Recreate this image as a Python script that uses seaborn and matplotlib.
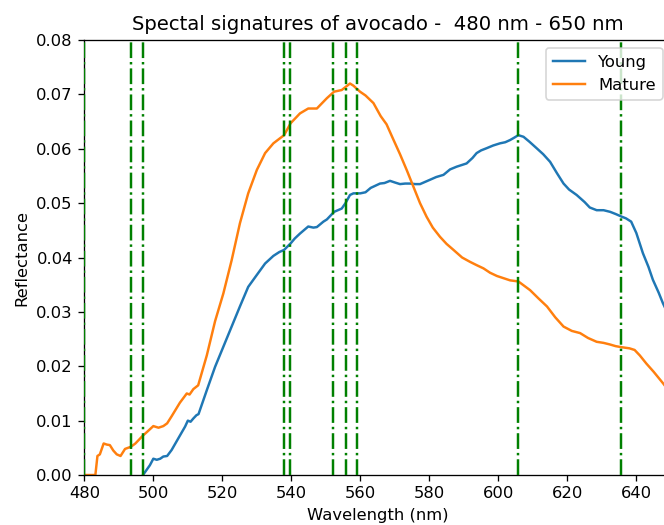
import matplotlib
matplotlib.use('Agg')
import matplotlib.pyplot as plt
import seaborn as sns

# ── Data ──────────────────────────────────────────────────────────────────────
wl_young = [497, 499, 500, 501, 502, 502.9, 504, 505.3, 507.2, 509.2, 510, 510.8,
            511.6, 512.5, 513.1, 515.5, 517.9, 520.3, 522.7, 525.1, 527.5, 530,
            532.4, 534.8, 536.5, 537.9, 539.8, 541, 542.5, 544.9, 546.4, 547.4,
            549.3, 550.3, 552.4, 554.6, 555.7, 557, 558, 560, 561.5, 563, 565.7,
            567, 568.6, 570, 571.5, 573, 574.4, 576, 577.3, 580.2, 582, 584.1,
            586, 587.9, 590.8, 592.5, 593.7, 595, 596.6, 598.5, 600.5, 602, 603.4,
            604.5, 605.8, 607.3, 609, 611.1, 613, 615, 617, 618.9, 620.5, 622.7,
            625, 626.5, 628.5, 630.5, 632.4, 634, 635.8, 637, 638.5, 640, 641.9,
            643.5, 644.8, 646.5, 647.7, 650]
refl_young = [0.0, 0.0018, 0.0030, 0.0028, 0.0030, 0.0034, 0.0035, 0.0046, 0.0067,
              0.0089, 0.0100, 0.0098, 0.0104, 0.0110, 0.0112, 0.0156, 0.0199, 0.0236,
              0.0273, 0.0310, 0.0346, 0.0368, 0.0389, 0.0403, 0.0410, 0.0414, 0.0426,
              0.0435, 0.0444, 0.0457, 0.0455, 0.0456, 0.0466, 0.0470, 0.0484, 0.0490,
              0.0500, 0.0515, 0.0518, 0.0518, 0.0520, 0.0528, 0.0536, 0.0537, 0.0541,
              0.0538, 0.0535, 0.0536, 0.0536, 0.0535, 0.0535, 0.0543, 0.0548, 0.0552,
              0.0562, 0.0567, 0.0573, 0.0583, 0.0592, 0.0597, 0.0601, 0.0606, 0.0610,
              0.0612, 0.0616, 0.0620, 0.0625, 0.0622, 0.0613, 0.0601, 0.0590, 0.0576,
              0.0555, 0.0536, 0.0525, 0.0515, 0.0502, 0.0492, 0.0487, 0.0487, 0.0484,
              0.0480, 0.0475, 0.0472, 0.0466, 0.0445, 0.0408, 0.0383, 0.0359, 0.0335,
              0.0316, 0.0285]

wl_mature = [480, 483.2, 483.8, 484.5, 485.6, 486.5, 487.4, 488.4, 489.4, 490.5,
             491.8, 493.5, 494.8, 496.9, 498.3, 500, 501.5, 502.9, 504, 505.3, 507.7,
             509.7, 510.5, 511.6, 513, 515.5, 517.9, 520.3, 522.7, 525.1, 527.5, 530,
             532.4, 534.8, 537.9, 539.8, 542.5, 544.9, 547.4, 550.3, 552.4, 554.6,
             557, 558, 559.9, 561.5, 563.8, 565.9, 567.6, 569.5, 571.5, 573.5, 575.4,
             577.3, 579.2, 581, 583.1, 585, 587, 589.5, 591.8, 593.7, 595.7, 597.6,
             599.6, 601.5, 603.4, 605.8, 607.5, 609.2, 611.6, 614.1, 616.5, 618.9,
             621.3, 623.7, 626, 628.5, 630.5, 632.4, 634, 635.8, 638, 639.5, 641,
             642.9, 645, 647.7, 650]
refl_mature = [0.0, 0.0, 0.0035, 0.0038, 0.0058, 0.0056, 0.0055, 0.0045, 0.0038,
               0.0035, 0.0048, 0.0052, 0.0058, 0.0072, 0.0080, 0.0090, 0.0087, 0.0090,
               0.0095, 0.0108, 0.0133, 0.0150, 0.0148, 0.0158, 0.0165, 0.0220, 0.0283,
               0.0334, 0.0395, 0.0463, 0.0518, 0.0561, 0.0592, 0.0610, 0.0625, 0.0647,
               0.0665, 0.0674, 0.0674, 0.0693, 0.0705, 0.0708, 0.0720, 0.0716, 0.0705,
               0.0698, 0.0684, 0.0660, 0.0645, 0.0618, 0.0590, 0.0560, 0.0530, 0.0500,
               0.0475, 0.0455, 0.0438, 0.0425, 0.0414, 0.0400, 0.0392, 0.0386, 0.0380,
               0.0372, 0.0366, 0.0362, 0.0358, 0.0356, 0.0348, 0.0340, 0.0325, 0.0310,
               0.0290, 0.0273, 0.0265, 0.0261, 0.0252, 0.0245, 0.0243, 0.0240, 0.0237,
               0.0235, 0.0233, 0.0230, 0.0220, 0.0205, 0.0190, 0.0169, 0.0150]

# selected bands (dash-dot markers)
bands = [480, 493.5, 497, 537.8, 539.7, 552.2, 555.8, 559, 605.6, 635.6]

DPI = 118

fig = plt.figure(figsize=(664 / DPI, 525 / DPI), dpi=DPI)
# axes runs slightly past the right edge, like the cropped original
ax = fig.add_axes([0.127, 0.0952, 0.8833, 0.8286])

sns.lineplot(x=wl_young, y=refl_young, color='#1f77b4', linewidth=1.5,
             label='Young', ax=ax)
sns.lineplot(x=wl_mature, y=refl_mature, color='#ff7f0e', linewidth=1.5,
             label='Mature', ax=ax)

for b in bands:
    ax.axvline(b, color='green', linestyle='-.', linewidth=1.5, zorder=3)

ax.set_xlim(480, 650)
ax.set_ylim(0, 0.08)
ax.set_xticks(range(480, 641, 20))
ax.set_xlabel('Wavelength (nm)')
ax.set_ylabel('Reflectance')
ax.set_title('Spectal signatures of avocado -  480 nm - 650 nm')
ax.legend(loc='upper right')

plt.savefig('out.png', dpi=DPI)
plt.close()
